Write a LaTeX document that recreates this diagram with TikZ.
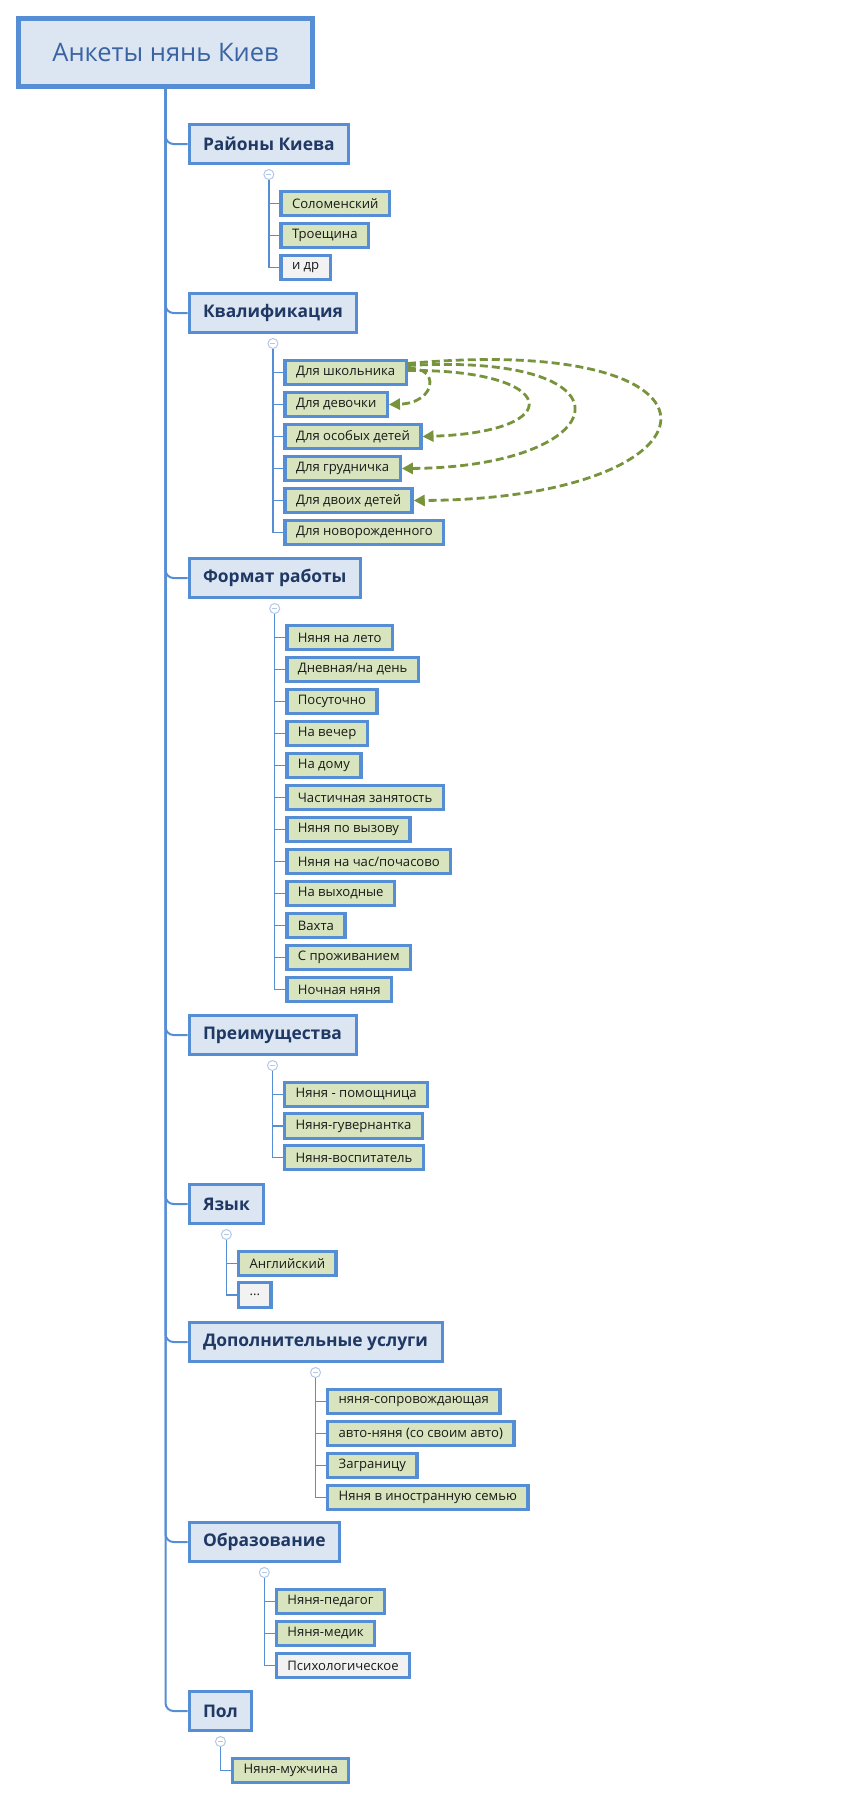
\documentclass[tikz,border=0pt]{standalone}
\usepackage{fontspec}
\setmainfont{Open Sans}
\usetikzlibrary{positioning,arrows.meta}

\definecolor{mapblue}{HTML}{558ED5}
\definecolor{topicfill}{HTML}{DCE6F2}
\definecolor{leaffill}{HTML}{D7E4BD}
\definecolor{greyfill}{HTML}{F2F2F2}
\definecolor{titleblue}{HTML}{3A63A3}
\definecolor{topicnavy}{HTML}{1F3864}
\definecolor{linkgreen}{HTML}{77933C}
\definecolor{knobblue}{HTML}{B4C7E7}

\tikzset{
  rootbox/.style={draw=mapblue, line width=5pt, fill=topicfill, text=titleblue,
    inner xsep=34pt, minimum height=68pt, font=\fontsize{25.5}{30}\selectfont},
  topic/.style={draw=mapblue, line width=3pt, fill=topicfill, text=topicnavy,
    inner xsep=14pt, minimum height=39pt, anchor=west,
    font=\fontsize{17.4}{20}\selectfont\bfseries},
  leaf/.style={draw=mapblue, line width=3.3pt, fill=leaffill, text=black!90,
    inner xsep=11pt, inner ysep=0pt, minimum height=24.5pt, anchor=west,
    font=\fontsize{13.1}{15}\selectfont},
  plainleaf/.style={leaf, fill=greyfill},
  knob/.style={circle, draw=knobblue, fill=white, line width=1pt, minimum size=10pt,
    inner sep=0pt, path picture={\draw[knobblue, line width=1pt]
      ([xshift=-2.5pt]path picture bounding box.center) --
      ([xshift=2.5pt]path picture bounding box.center);}},
  trunk/.style={draw=mapblue, line width=2pt, rounded corners=8pt},
  twig/.style={draw=mapblue, line width=1.5pt},
  crosslink/.style={draw=linkgreen, line width=2.8pt, dash pattern=on 8pt off 4pt,
    -{Triangle[length=11pt,width=11pt]}},
}

\begin{document}
\begin{tikzpicture}[x=1pt, y=-1pt]
  \useasboundingbox (0,0) rectangle (860,1799);

  \node[rootbox] (root) at (165.5,52.5) {Анкеты нянь Киев};

  % main topics
  \foreach \n/\yy/\txt in {1/144/Районы Киева, 2/313/Квалификация, 3/578/Формат работы,
      4/1035/Преимущества, 5/1204/Язык, 6/1342/Дополнительные услуги,
      7/1542/Образование, 8/1711/Пол}{
    \node[topic] (t\n) at (187.5,\yy) {\txt};
    \node[knob, below=4pt of t\n] (k\n) {};
    \draw[trunk] (root.south) |- (t\n.west);
  }

  % subtopics
  \foreach \i/\txt/\sty in {0/Соломенский/leaf, 1/Троещина/leaf, 2/и др/plainleaf}{
    \node[\sty] (r\i) at ([xshift=10.5pt, yshift={-29pt-32pt*\i}]k1.center) {\txt};
    \draw[twig] (k1.south) |- (r\i.west);
  }
  \foreach \i/\txt in {0/Для школьника, 1/Для девочки, 2/Для особых детей,
      3/Для грудничка, 4/Для двоих детей, 5/Для новорожденного}{
    \node[leaf] (q\i) at ([xshift=10.5pt, yshift={-29pt-32pt*\i}]k2.center) {\txt};
    \draw[twig] (k2.south) |- (q\i.west);
  }
  \foreach \i/\txt in {0/Няня на лето, 1/{Дневная/на день}, 2/Посуточно, 3/На вечер,
      4/На дому, 5/Частичная занятость, 6/Няня по вызову, 7/{Няня на час/почасово},
      8/На выходные, 9/Вахта, 10/С проживанием, 11/Ночная няня}{
    \node[leaf] (f\i) at ([xshift=10.5pt, yshift={-29pt-32pt*\i}]k3.center) {\txt};
    \draw[twig] (k3.south) |- (f\i.west);
  }
  \foreach \i/\txt in {0/Няня - помощница, 1/Няня-гувернантка, 2/Няня-воспитатель}{
    \node[leaf] (p\i) at ([xshift=10.5pt, yshift={-29pt-31.5pt*\i}]k4.center) {\txt};
    \draw[twig] (k4.south) |- (p\i.west);
  }
  \node[leaf] (l0) at ([xshift=10.5pt, yshift=-29pt]k5.center) {Английский};
  \node[plainleaf] (l1) at ([xshift=10.5pt, yshift=-60.5pt]k5.center) {...};
  \draw[twig] (k5.south) |- (l0.west);
  \draw[twig] (k5.south) |- (l1.west);
  \foreach \i/\txt in {0/няня-сопровождающая, 1/авто-няня (со своим авто), 2/Заграницу,
      3/Няня в иностранную семью}{
    \node[leaf] (d\i) at ([xshift=10.5pt, yshift={-29pt-32pt*\i}]k6.center) {\txt};
    \draw[twig] (k6.south) |- (d\i.west);
  }
  \foreach \i/\txt/\sty in {0/Няня-педагог/leaf, 1/Няня-медик/leaf,
      2/Психологическое/plainleaf}{
    \node[\sty] (e\i) at ([xshift=10.5pt, yshift={-29pt-32pt*\i}]k7.center) {\txt};
    \draw[twig] (k7.south) |- (e\i.west);
  }
  \node[leaf] (g0) at ([xshift=10.5pt, yshift=-29pt]k8.center) {Няня-мужчина};
  \draw[twig] (k8.south) |- (g0.west);

  % relations
  \draw[crosslink] ([yshift=4pt]q0.east) .. controls (440,366) and (437,403) .. (q1.east);
  \draw[crosslink] ([yshift=2pt]q0.east) .. controls (560,369) and (570,432) .. (q2.east);
  \draw[crosslink] ([yshift=7pt]q0.east) .. controls (645,352) and (615,467) .. (q3.east);
  \draw[crosslink] ([yshift=9pt]q0.east) .. controls (755,332) and (730,499) .. (q4.east);
\end{tikzpicture}
\end{document}
